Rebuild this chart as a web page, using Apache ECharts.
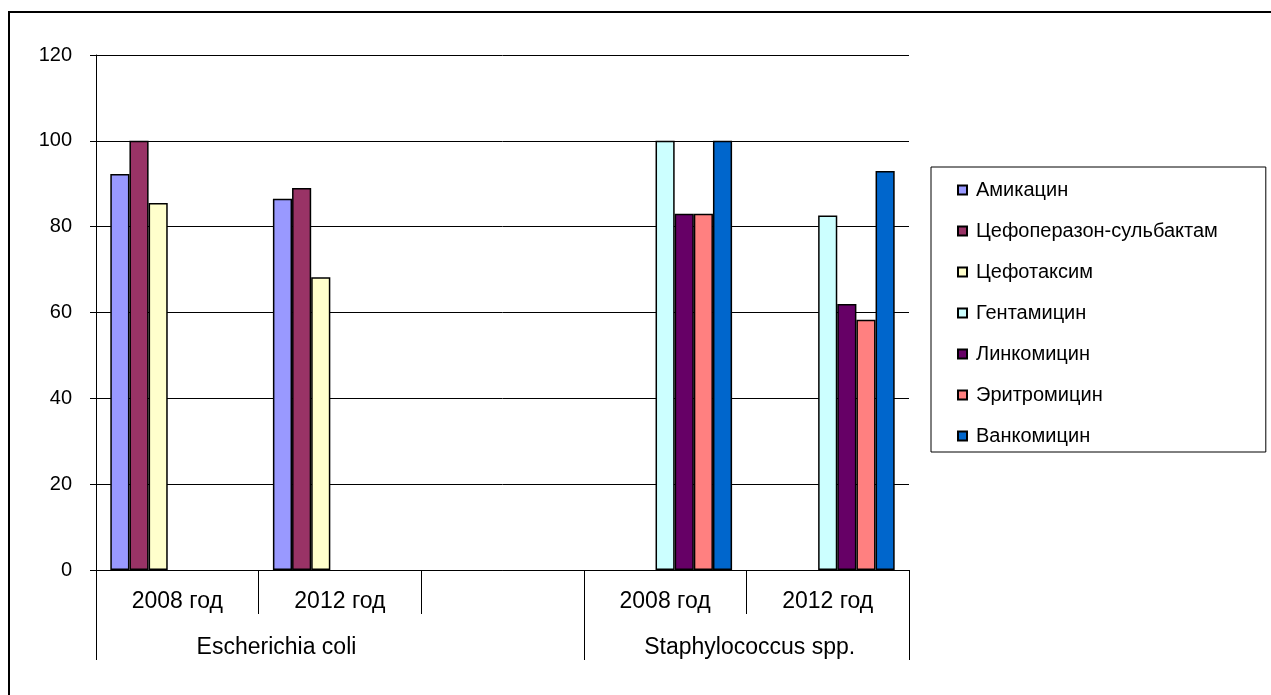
<!DOCTYPE html>
<html>
<head>
<meta charset="utf-8">
<script src="https://cdn.jsdelivr.net/npm/echarts@6/dist/echarts.min.js"></script>
<style>
  html, body { margin: 0; padding: 0; background: #fff; }
  #chart { width: 1271px; height: 695px; }
</style>
</head>
<body>
<div id="chart"></div>
<script>
// Категории нижней оси (пустая ячейка — промежуток между группами)
const categories = ['2008 год', '2012 год', '', '2008 год', '2012 год'];
// Группы второго уровня и число категорий в каждой
const groups = ['Escherichia coli', 'Staphylococcus spp.'];
const groupSpans = [3, 2];

// Названия препаратов
const drugs = ['Амикацин', 'Цефоперазон-сульбактам', 'Цефотаксим', 'Гентамицин',
  'Линкомицин', 'Эритромицин', 'Ванкомицин'];

// Значения по категориям (null — нет данных)
const amikacin     = [92.3, 86.5, null, null, null];
const cefoperazone = [100, 89, null, null, null];
const cefotaxime   = [85.5, 68.2, null, null, null];
const gentamicin   = [null, null, null, 100, 82.6];
const lincomycin   = [null, null, null, 83, 62];
const erythromycin = [null, null, null, 83, 58.3];
const vancomycin   = [null, null, null, 100, 93];

const seriesValues = [amikacin, cefoperazone, cefotaxime, gentamicin, lincomycin, erythromycin, vancomycin];
const colors = ['#9999FF', '#993366', '#FFFFCC', '#CCFFFF', '#660066', '#FF8080', '#0066CC'];

// Границы групп на второй оси
const groupBounds = [0];
groupSpans.forEach(s => groupBounds.push(groupBounds[groupBounds.length - 1] + s));

const FONT = "'Liberation Sans', Arial, sans-serif";

const chart = echarts.init(document.getElementById('chart'), null, { renderer: 'canvas' });

chart.setOption({
  backgroundColor: '#ffffff',
  animation: false,
  textStyle: { fontFamily: FONT, color: '#000' },
  graphic: [{
    type: 'rect',
    shape: { x: 9, y: 12, width: 1300, height: 720 },
    style: { fill: 'none', stroke: '#000', lineWidth: 2 },
    silent: true,
    z: 0
  }],
  legend: {
    orient: 'vertical',
    left: 931,
    top: 167,
    padding: [13, 48, 6, 26],
    itemGap: 21,
    itemWidth: 9,
    itemHeight: 9,
    icon: 'rect',
    borderColor: '#000',
    borderWidth: 1,
    textStyle: { fontFamily: FONT, fontSize: 20, color: '#000', lineHeight: 20, padding: [0, 0, 0, 4] },
    data: drugs
  },
  grid: { left: 96, right: 362, top: 55, bottom: 125, containLabel: false },
  xAxis: [{
    type: 'category',
    data: categories,
    position: 'bottom',
    axisLine: { show: true, lineStyle: { color: '#000', width: 1 } },
    axisTick: { show: true, interval: 0, length: 44, lineStyle: { color: '#000', width: 1 } },
    axisLabel: { interval: 0, fontSize: 23, color: '#000', fontFamily: FONT, margin: 20 },
    splitLine: { show: false }
  }, {
    type: 'value',
    min: 0,
    max: groupBounds[groupBounds.length - 1],
    position: 'bottom',
    offset: 44,
    axisLine: { show: false },
    splitLine: { show: false },
    axisTick: {
      show: true,
      length: 46,
      customValues: groupBounds,
      lineStyle: { color: '#000', width: 1 }
    },
    axisLabel: {
      show: true,
      customValues: [1.11, 4.02],
      fontSize: 23,
      color: '#000',
      fontFamily: FONT,
      margin: 22,
      formatter: v => v < groupBounds[1] ? groups[0] : groups[1]
    }
  }],
  yAxis: {
    type: 'value',
    min: 0,
    max: 120,
    interval: 20,
    axisLine: { show: true, lineStyle: { color: '#000', width: 1 } },
    axisTick: { show: true, length: 6, lineStyle: { color: '#000', width: 1 } },
    axisLabel: { fontSize: 20, color: '#000', fontFamily: FONT, margin: 24 },
    splitLine: { show: true, lineStyle: { color: '#000', width: 1 } }
  },
  series: drugs.map((name, i) => ({
    name,
    type: 'bar',
    xAxisIndex: 0,
    data: seriesValues[i],
    barGap: '0%',
    barCategoryGap: '17.6%',
    itemStyle: { color: colors[i], borderColor: '#000', borderWidth: 1.5 },
    emphasis: { disabled: true }
  }))
});
</script>
</body>
</html>
